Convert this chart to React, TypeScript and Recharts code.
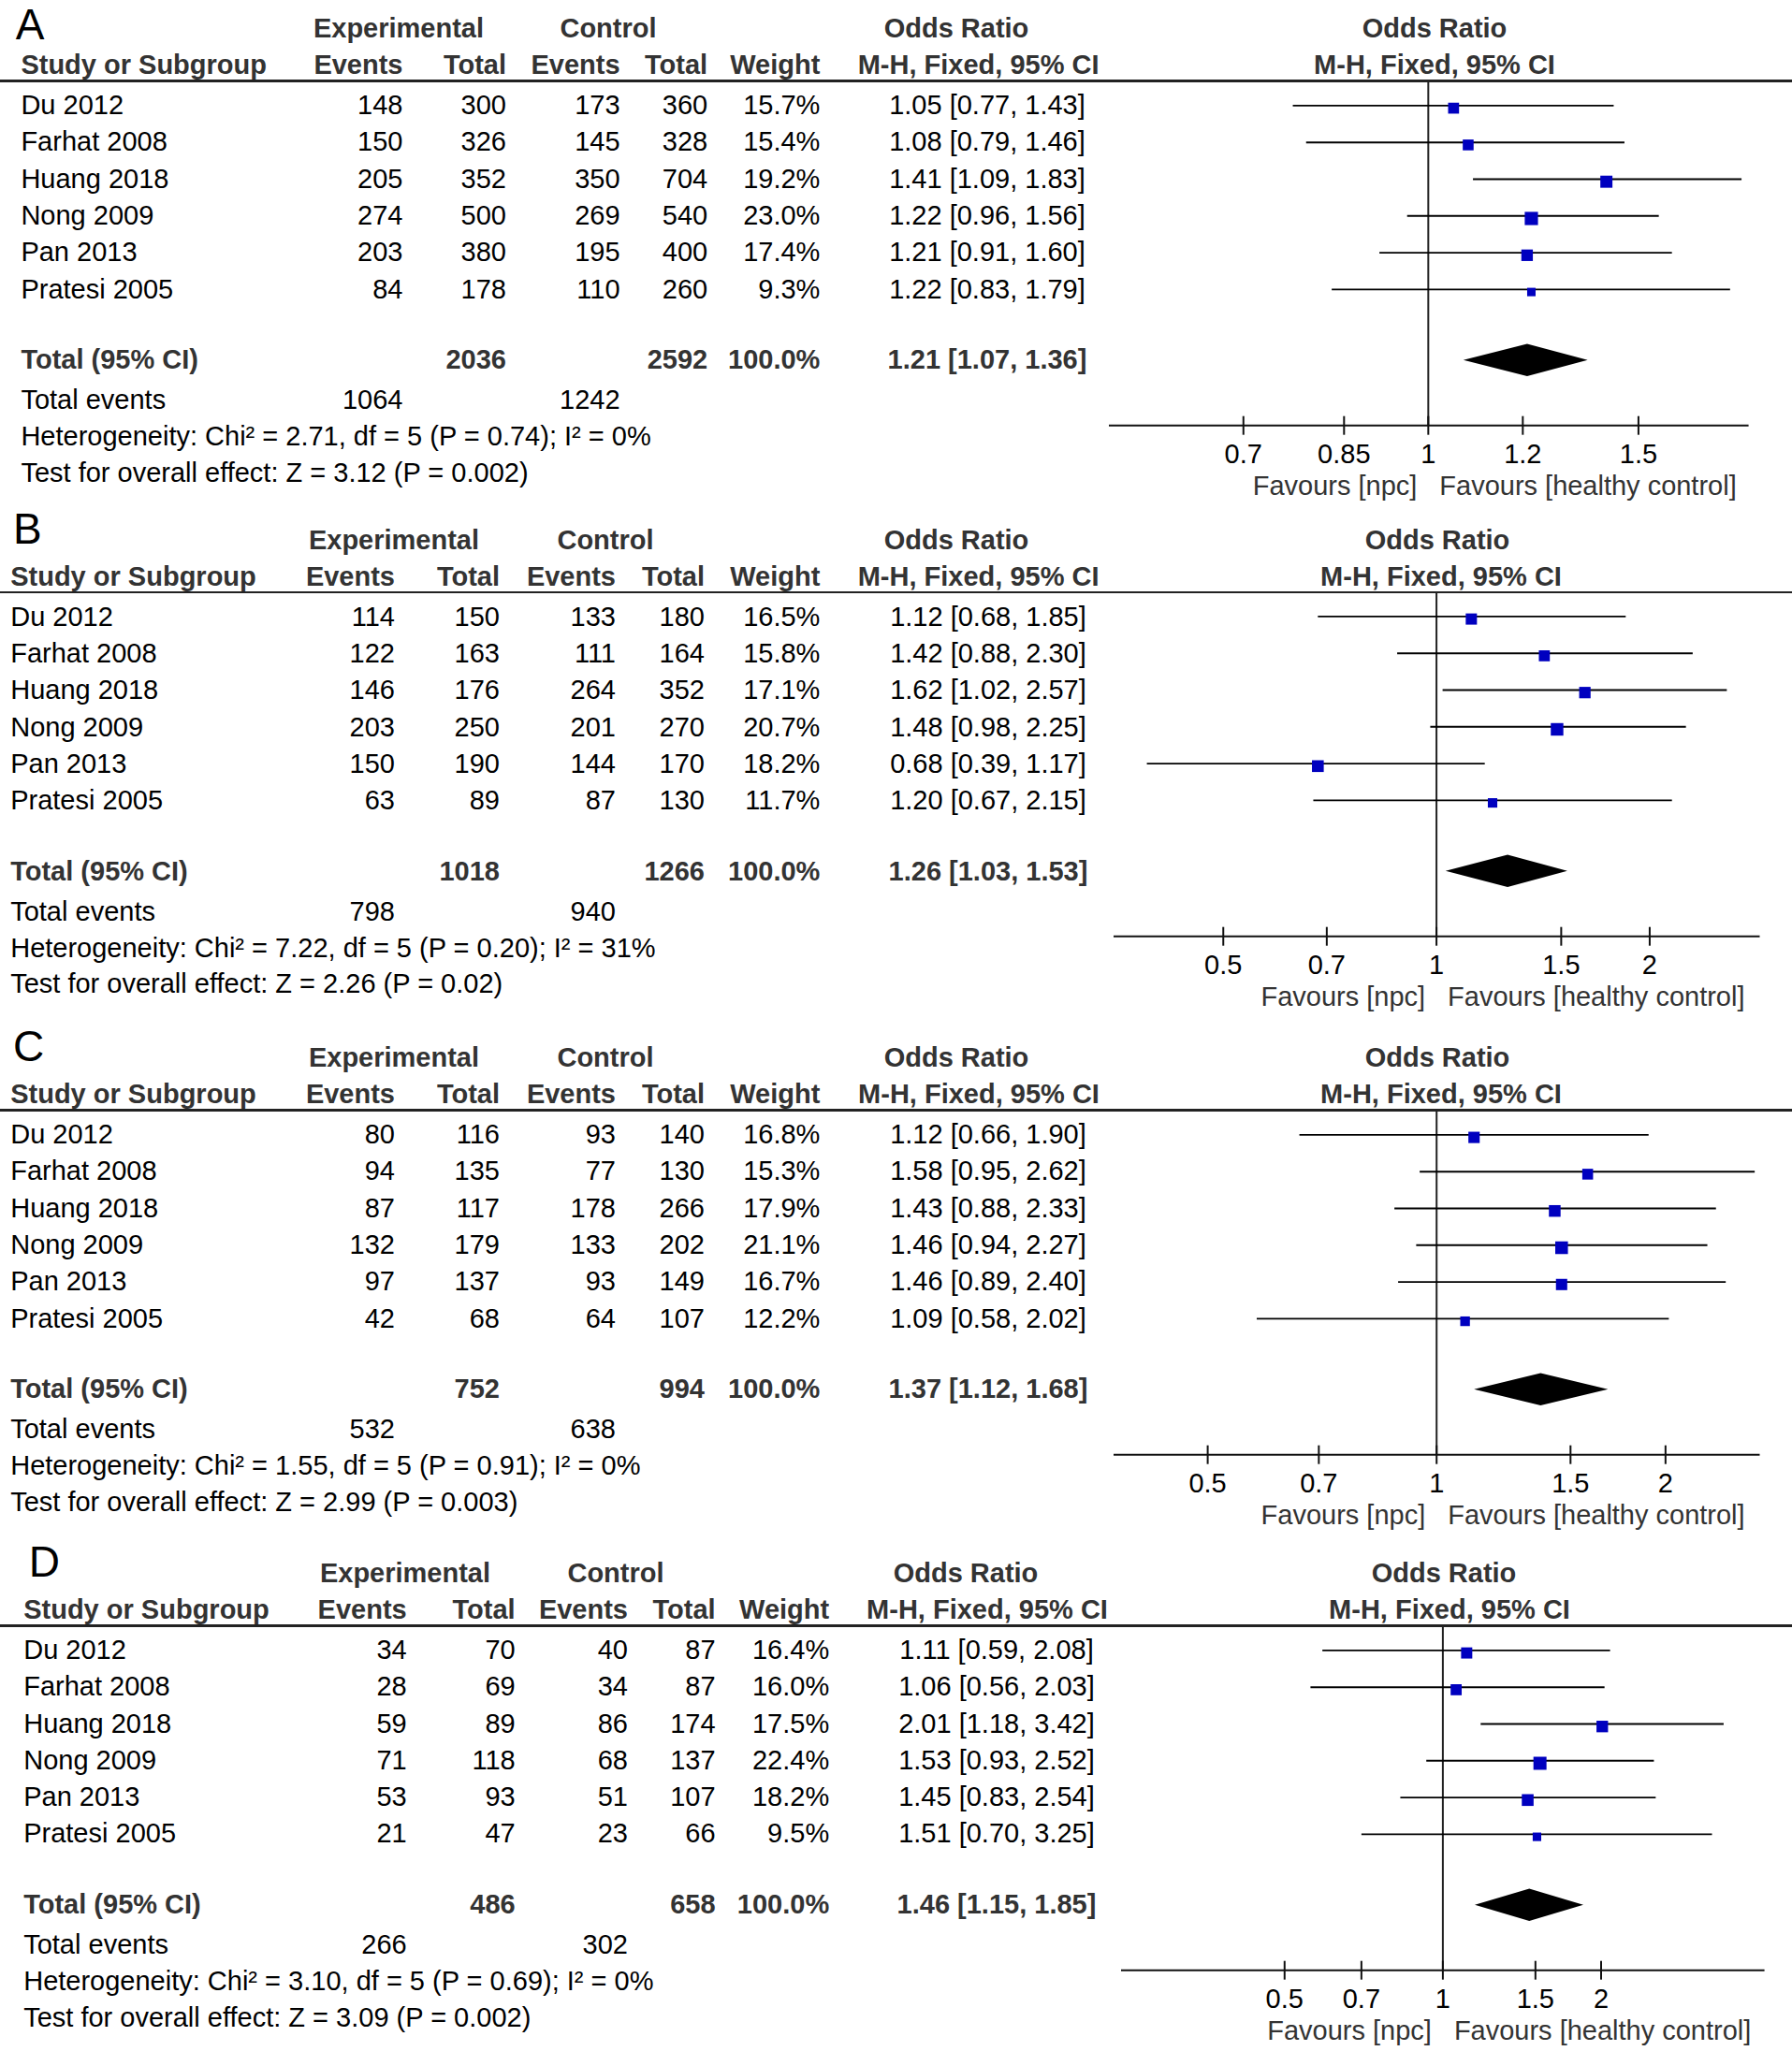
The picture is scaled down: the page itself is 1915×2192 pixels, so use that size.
import React from 'react';
import { ScatterChart, Scatter, XAxis, YAxis, ReferenceLine } from 'recharts';

const studies = ['Du 2012', 'Farhat 2008', 'Huang 2018', 'Nong 2009', 'Pan 2013', 'Pratesi 2005'];

// Panel A
const aExpEvents = [148, 150, 205, 274, 203, 84];
const aExpTotal = [300, 326, 352, 500, 380, 178];
const aCtrlEvents = [173, 145, 350, 269, 195, 110];
const aCtrlTotal = [360, 328, 704, 540, 400, 260];
const aWeight = [15.7, 15.4, 19.2, 23.0, 17.4, 9.3];
const aOr = [1.05, 1.08, 1.41, 1.22, 1.21, 1.22];
const aLo = [0.77, 0.79, 1.09, 0.96, 0.91, 0.83];
const aHi = [1.43, 1.46, 1.83, 1.56, 1.6, 1.79];

// Panel B
const bExpEvents = [114, 122, 146, 203, 150, 63];
const bExpTotal = [150, 163, 176, 250, 190, 89];
const bCtrlEvents = [133, 111, 264, 201, 144, 87];
const bCtrlTotal = [180, 164, 352, 270, 170, 130];
const bWeight = [16.5, 15.8, 17.1, 20.7, 18.2, 11.7];
const bOr = [1.12, 1.42, 1.62, 1.48, 0.68, 1.2];
const bLo = [0.68, 0.88, 1.02, 0.98, 0.39, 0.67];
const bHi = [1.85, 2.3, 2.57, 2.25, 1.17, 2.15];

// Panel C
const cExpEvents = [80, 94, 87, 132, 97, 42];
const cExpTotal = [116, 135, 117, 179, 137, 68];
const cCtrlEvents = [93, 77, 178, 133, 93, 64];
const cCtrlTotal = [140, 130, 266, 202, 149, 107];
const cWeight = [16.8, 15.3, 17.9, 21.1, 16.7, 12.2];
const cOr = [1.12, 1.58, 1.43, 1.46, 1.46, 1.09];
const cLo = [0.66, 0.95, 0.88, 0.94, 0.89, 0.58];
const cHi = [1.9, 2.62, 2.33, 2.27, 2.4, 2.02];

// Panel D
const dExpEvents = [34, 28, 59, 71, 53, 21];
const dExpTotal = [70, 69, 89, 118, 93, 47];
const dCtrlEvents = [40, 34, 86, 68, 51, 23];
const dCtrlTotal = [87, 87, 174, 137, 107, 66];
const dWeight = [16.4, 16.0, 17.5, 22.4, 18.2, 9.5];
const dOr = [1.11, 1.06, 2.01, 1.53, 1.45, 1.51];
const dLo = [0.59, 0.56, 1.18, 0.93, 0.83, 0.7];
const dHi = [2.08, 2.03, 3.42, 2.52, 2.54, 3.25];

// totals: [exp total, ctrl total, OR, lo, hi, exp events, ctrl events]
const aTotals = [2036, 2592, 1.21, 1.07, 1.36, 1064, 1242];
const bTotals = [1018, 1266, 1.26, 1.03, 1.53, 798, 940];
const cTotals = [752, 994, 1.37, 1.12, 1.68, 532, 638];
const dTotals = [486, 658, 1.46, 1.15, 1.85, 266, 302];

const hetTexts = [
  'Heterogeneity: Chi² = 2.71, df = 5 (P = 0.74); I² = 0%',
  'Heterogeneity: Chi² = 7.22, df = 5 (P = 0.20); I² = 31%',
  'Heterogeneity: Chi² = 1.55, df = 5 (P = 0.91); I² = 0%',
  'Heterogeneity: Chi² = 3.10, df = 5 (P = 0.69); I² = 0%',
];
const testTexts = [
  'Test for overall effect: Z = 3.12 (P = 0.002)',
  'Test for overall effect: Z = 2.26 (P = 0.02)',
  'Test for overall effect: Z = 2.99 (P = 0.003)',
  'Test for overall effect: Z = 3.09 (P = 0.002)',
];

const ticksA = [0.7, 0.85, 1, 1.2, 1.5];
const ticksBCD = [0.5, 0.7, 1, 1.5, 2];

const panels = [
  { label: 'A', expEvents: aExpEvents, expTotal: aExpTotal, ctrlEvents: aCtrlEvents, ctrlTotal: aCtrlTotal, weight: aWeight, or: aOr, lo: aLo, hi: aHi, totals: aTotals },
  { label: 'B', expEvents: bExpEvents, expTotal: bExpTotal, ctrlEvents: bCtrlEvents, ctrlTotal: bCtrlTotal, weight: bWeight, or: bOr, lo: bLo, hi: bHi, totals: bTotals },
  { label: 'C', expEvents: cExpEvents, expTotal: cExpTotal, ctrlEvents: cCtrlEvents, ctrlTotal: cCtrlTotal, weight: cWeight, or: cOr, lo: cLo, hi: cHi, totals: cTotals },
  { label: 'D', expEvents: dExpEvents, expTotal: dExpTotal, ctrlEvents: dCtrlEvents, ctrlTotal: dCtrlTotal, weight: dWeight, or: dOr, lo: dLo, hi: dHi, totals: dTotals },
];

// layout (page pixels)
const layouts = [
  { top: 30.8, letter: 16.8, name: 22.4, cols: [430.5, 541, 662.6, 756.2, 876.4], ci: 1055, h1: [426, 650, 1022, 1533], mh: [1045.6, 1533], axis: [1185.3, 1868.9], domain: [0.54, 1.855], ticks: ticksA },
  { top: 577.3, letter: 14, name: 11.2, cols: [422, 534, 658, 753, 876.4], ci: 1056, h1: [421, 647, 1022, 1536], mh: [1045.6, 1540], axis: [1189.5, 1880], domain: [0.35, 2.86], ticks: ticksBCD },
  { top: 1130.8, letter: 14, name: 11.2, cols: [422, 534, 658, 753, 876.4], ci: 1056, h1: [421, 647, 1022, 1536], mh: [1046, 1540], axis: [1189.5, 1880], domain: [0.376, 2.66], ticks: ticksBCD },
  { top: 1681.6, letter: 30.8, name: 25.2, cols: [434.7, 550.7, 671, 764.6, 886.2], ci: 1065, h1: [433, 658, 1032, 1543], mh: [1055, 1549], axis: [1198, 1885.6], domain: [0.2443, 4.09], ticks: ticksBCD },
];

const H2 = 39.1;
const LINE = 55.9;
const ROW0 = 81.8;
const ROW_STEP = 39.3;
const TOTAL = 353.7;
const EVENTS = 397;
const HET = 436.1;
const TEST = 474.5;
const AXIS = 423.6;

const FONT = '"Liberation Sans", Arial, Helvetica, sans-serif';
const HEAD = '#333';

const fmtCi = (o: number, l: number, h: number) => `${o.toFixed(2)} [${l.toFixed(2)}, ${h.toFixed(2)}]`;

function Txt({ x, y, a = 'left', b = false, c = '#000', s = 29, children }: any) {
  const lh = Math.round(s * 1.4);
  const style: React.CSSProperties = {
    position: 'absolute', top: y - lh / 2, height: lh, lineHeight: `${lh}px`,
    fontSize: s, fontWeight: b ? 700 : 400, color: c, whiteSpace: 'nowrap',
  };
  if (a === 'left') style.left = x;
  else if (a === 'right') { style.left = x - 500; style.width = 500; style.textAlign = 'right'; }
  else { style.left = x - 500; style.width = 1000; style.textAlign = 'center'; }
  return <div style={style}>{children}</div>;
}

// panel letter: tight line box, kept far enough from the page top that the glyph box is not cut
function Letter({ x, y, children }: any) {
  const lh = 39;
  return (
    <div style={{ position: 'absolute', left: x, top: Math.max(7, y - lh / 2), height: lh, lineHeight: `${lh}px`, fontSize: 46, color: '#000' }}>
      {children}
    </div>
  );
}

const AxisTick = (props: any) => {
  const { x, y, payload } = props;
  return (
    <g>
      <line x1={x} x2={x} y1={y - 10} y2={y + 10} stroke="#111" strokeWidth={2} />
      <text x={x} y={y + 40} textAnchor="middle" fontSize={29} fontFamily={FONT} fill="#000">{payload.value}</text>
      {payload.value === 1 && (
        <>
          <text x={x - 12} y={y + 74} textAnchor="end" fontSize={29} fontFamily={FONT} fill="#333">Favours [npc]</text>
          <text x={x + 12} y={y + 74} textAnchor="start" fontSize={29} fontFamily={FONT} fill="#333">Favours [healthy control]</text>
        </>
      )}
    </g>
  );
};

const Empty = () => <g />;

const Square = (props: any) => {
  const { cx, cy } = props;
  const w = props.payload?.w ?? props.w;
  const s = 2.95 * Math.sqrt(w);
  return <rect x={cx - s / 2} y={cy - s / 2 + 2.7} width={s} height={s} fill="#0000BF" />;
};

const CiSegments = (props: any) => {
  const pts = props.points || [];
  const segs = [];
  for (let i = 0; i + 1 < pts.length; i += 2) {
    segs.push(<line key={i} x1={pts[i].x} y1={pts[i].y} x2={pts[i + 1].x} y2={pts[i + 1].y} stroke="#000" strokeWidth={1.9} />);
  }
  return <g>{segs}</g>;
};

const DiamondShape = (props: any) => {
  const pts = props.points || [];
  return <polygon points={pts.map((p: any) => `${p.x},${p.y}`).join(' ')} fill="#000" />;
};

function Forest({ p, lay }: any) {
  const yTop = (LINE - ROW0) / ROW_STEP;
  const yBot = (AXIS - ROW0) / ROW_STEP;
  const yTotal = (TOTAL - ROW0) / ROW_STEP;
  const ciData = p.lo.flatMap((lo: number, i: number) => [{ x: lo, y: i }, { x: p.hi[i], y: i }]);
  const pointData = p.or.map((v: number, i: number) => ({ x: v, y: i, w: p.weight[i] }));
  const [, , tOr, tLo, tHi] = p.totals;
  const diamond = [
    { x: tLo, y: yTotal },
    { x: tOr, y: yTotal - 0.44 },
    { x: tHi, y: yTotal },
    { x: tOr, y: yTotal + 0.44 },
  ];
  const padL = 20;
  const padR = 30;
  const w = lay.axis[1] - lay.axis[0];
  return (
    <div style={{ position: 'absolute', left: lay.axis[0] - padL, top: lay.top + LINE }}>
      <ScatterChart width={w + padL + padR} height={AXIS - LINE + 100} margin={{ top: 0, right: padR, bottom: 0, left: padL }}>
        <XAxis
          type="number" dataKey="x" scale="log" domain={lay.domain} allowDataOverflow
          ticks={lay.ticks} interval={0} height={100} tickSize={0} tickMargin={0} tickLine={false}
          axisLine={{ stroke: '#111', strokeWidth: 2 }} tick={<AxisTick />}
        />
        <YAxis type="number" dataKey="y" hide width={0} domain={[yTop, yBot]} reversed allowDataOverflow />
        <ReferenceLine x={1} stroke="#222" strokeWidth={2} />
        <Scatter data={ciData} isAnimationActive={false} shape={<Empty />} line={CiSegments} />
        <Scatter data={diamond} isAnimationActive={false} shape={<Empty />} line={DiamondShape} />
        <Scatter data={pointData} isAnimationActive={false} shape={<Square />} />
      </ScatterChart>
    </div>
  );
}

function Panel({ p, lay, idx }: any) {
  const T = lay.top;
  const [e, t, ce, ct, wt] = lay.cols;
  const [totExp, totCtrl, tOr, tLo, tHi, evExp, evCtrl] = p.totals;
  return (
    <>
      <Letter x={lay.letter} y={T - 12}>{p.label}</Letter>
      <Txt x={lay.h1[0]} y={T} a="center" b c={HEAD}>Experimental</Txt>
      <Txt x={lay.h1[1]} y={T} a="center" b c={HEAD}>Control</Txt>
      <Txt x={lay.h1[2]} y={T} a="center" b c={HEAD}>Odds Ratio</Txt>
      <Txt x={lay.h1[3]} y={T} a="center" b c={HEAD}>Odds Ratio</Txt>
      <Txt x={lay.name} y={T + H2} b c={HEAD}>Study or Subgroup</Txt>
      <Txt x={e} y={T + H2} a="right" b c={HEAD}>Events</Txt>
      <Txt x={t} y={T + H2} a="right" b c={HEAD}>Total</Txt>
      <Txt x={ce} y={T + H2} a="right" b c={HEAD}>Events</Txt>
      <Txt x={ct} y={T + H2} a="right" b c={HEAD}>Total</Txt>
      <Txt x={wt} y={T + H2} a="right" b c={HEAD}>Weight</Txt>
      <Txt x={lay.mh[0]} y={T + H2} a="center" b c={HEAD}>M-H, Fixed, 95% CI</Txt>
      <Txt x={lay.mh[1]} y={T + H2} a="center" b c={HEAD}>M-H, Fixed, 95% CI</Txt>
      <div style={{ position: 'absolute', left: 0, top: T + LINE - 1.25, width: 1915, height: 2.5, background: '#222' }} />
      {studies.map((s, i) => {
        const y = T + ROW0 + i * ROW_STEP;
        return (
          <React.Fragment key={s}>
            <Txt x={lay.name} y={y}>{s}</Txt>
            <Txt x={e} y={y} a="right">{p.expEvents[i]}</Txt>
            <Txt x={t} y={y} a="right">{p.expTotal[i]}</Txt>
            <Txt x={ce} y={y} a="right">{p.ctrlEvents[i]}</Txt>
            <Txt x={ct} y={y} a="right">{p.ctrlTotal[i]}</Txt>
            <Txt x={wt} y={y} a="right">{p.weight[i].toFixed(1)}%</Txt>
            <Txt x={lay.ci} y={y} a="center">{fmtCi(p.or[i], p.lo[i], p.hi[i])}</Txt>
          </React.Fragment>
        );
      })}
      <Txt x={lay.name} y={T + TOTAL} b c={HEAD}>Total (95% CI)</Txt>
      <Txt x={t} y={T + TOTAL} a="right" b c={HEAD}>{totExp}</Txt>
      <Txt x={ct} y={T + TOTAL} a="right" b c={HEAD}>{totCtrl}</Txt>
      <Txt x={wt} y={T + TOTAL} a="right" b c={HEAD}>100.0%</Txt>
      <Txt x={lay.ci} y={T + TOTAL} a="center" b c={HEAD}>{fmtCi(tOr, tLo, tHi)}</Txt>
      <Txt x={lay.name} y={T + EVENTS}>Total events</Txt>
      <Txt x={e} y={T + EVENTS} a="right">{evExp}</Txt>
      <Txt x={ce} y={T + EVENTS} a="right">{evCtrl}</Txt>
      <Txt x={lay.name} y={T + HET}>{hetTexts[idx]}</Txt>
      <Txt x={lay.name} y={T + TEST}>{testTexts[idx]}</Txt>
      <Forest p={p} lay={lay} />
    </>
  );
}

export default function App() {
  return (
    <div style={{ position: 'absolute', left: 0, top: 0, width: 1915, height: 2192, background: '#fff', fontFamily: FONT, overflow: 'hidden' }}>
      {panels.map((p, i) => (
        <Panel key={p.label} p={p} lay={layouts[i]} idx={i} />
      ))}
    </div>
  );
}
